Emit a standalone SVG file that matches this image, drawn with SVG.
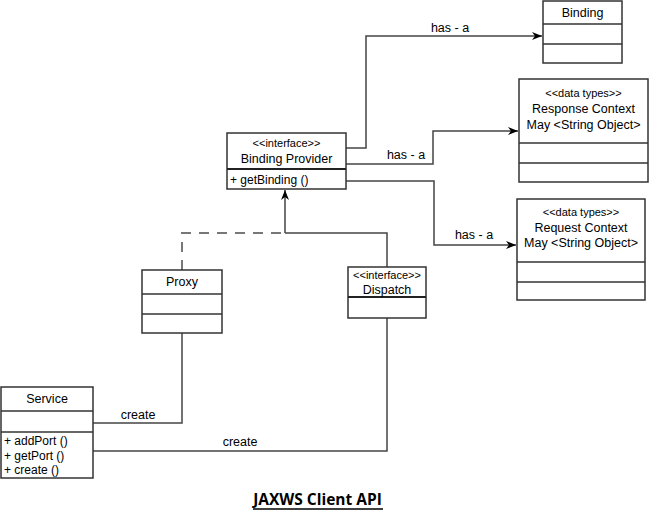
<svg xmlns="http://www.w3.org/2000/svg" width="650" height="512" viewBox="0 0 650 512">
<defs>
<style>
.box{fill:#fff;stroke:#333;stroke-width:1.5}
.div{stroke:#333;stroke-width:1.5}
.thick{stroke:#222;stroke-width:2}
.conn{fill:none;stroke:#444;stroke-width:1.5}
.dash{fill:none;stroke:#777;stroke-width:2;stroke-dasharray:10,8}
.t{font-family:"Liberation Sans",Arial,sans-serif;font-size:12.5px;fill:#000;text-anchor:middle}
.s{font-family:"Liberation Sans",Arial,sans-serif;font-size:11px;fill:#000;text-anchor:middle}
.m{font-family:"Liberation Sans",Arial,sans-serif;font-size:12px;fill:#000}
.title{font-family:"Open Sans","DejaVu Sans",sans-serif;font-size:15.5px;font-weight:bold;fill:#000;text-anchor:middle}
</style>
<marker id="arr" viewBox="0 0 10 10" refX="10" refY="5" markerWidth="10" markerHeight="10" markerUnits="userSpaceOnUse" orient="auto">
<path d="M0,1 L10,5 L0,9 L3,5 z" fill="#000"/>
</marker>
</defs>
<g id="connectors">
<polyline class="conn" points="346,148 366,148 366,36 542,36" marker-end="url(#arr)"/>
<text class="t" x="450" y="32">has - a</text>
<polyline class="conn" points="346,164 433,164 433,131 518,131" marker-end="url(#arr)"/>
<text class="t" x="406" y="159">has - a</text>
<polyline class="conn" points="346,181 434,181 434,245 516,245" marker-end="url(#arr)"/>
<text class="t" x="474" y="239">has - a</text>
<line class="conn" x1="285" y1="233" x2="285" y2="190" marker-end="url(#arr)"/>
<polyline class="dash" points="182,270 182,233 285,233"/>
<polyline class="conn" points="285,233 387,233 387,267"/>
<polyline class="conn" points="182,333 182,423 93,423"/>
<text class="t" x="138" y="419">create</text>
<polyline class="conn" points="387,318 387,451 93,451"/>
<text class="t" x="240" y="446">create</text>
</g>
<g id="binding">
<rect class="box" x="543" y="1" width="79" height="62"/>
<line class="div" x1="543" y1="24" x2="622" y2="24"/>
<line class="div" x1="543" y1="44" x2="622" y2="44"/>
<text class="t" x="582.5" y="17">Binding</text>
</g>
<g id="response-context">
<rect class="box" x="519" y="79" width="129" height="103"/>
<line class="div" x1="519" y1="143" x2="648" y2="143"/>
<line class="div" x1="519" y1="163" x2="648" y2="163"/>
<text class="s" x="583.5" y="97">&lt;&lt;data types&gt;&gt;</text>
<text class="t" x="583.5" y="113">Response Context</text>
<text class="t" x="583.5" y="129">May &lt;String Object&gt;</text>
</g>
<g id="binding-provider">
<rect class="box" x="227" y="133" width="119" height="56"/>
<line class="thick" x1="227" y1="169" x2="346" y2="169"/>
<text class="s" x="286.5" y="147">&lt;&lt;interface&gt;&gt;</text>
<text class="t" x="286.5" y="163">Binding Provider</text>
<text class="m" x="230" y="184">+ getBinding ()</text>
</g>
<g id="request-context">
<rect class="box" x="517" y="199" width="128" height="101"/>
<line class="div" x1="517" y1="262" x2="645" y2="262"/>
<line class="div" x1="517" y1="282" x2="645" y2="282"/>
<text class="s" x="581" y="216">&lt;&lt;data types&gt;&gt;</text>
<text class="t" x="581" y="232">Request Context</text>
<text class="t" x="581" y="247">May &lt;String Object&gt;</text>
</g>
<g id="proxy">
<rect class="box" x="142" y="270" width="80" height="63"/>
<line class="div" x1="142" y1="294" x2="222" y2="294"/>
<line class="div" x1="142" y1="314" x2="222" y2="314"/>
<text class="t" x="182" y="286">Proxy</text>
</g>
<g id="dispatch">
<rect class="box" x="348" y="267" width="78" height="51"/>
<line class="thick" x1="348" y1="297" x2="426" y2="297"/>
<text class="s" x="387" y="279">&lt;&lt;interface&gt;&gt;</text>
<text class="t" x="387" y="294">Dispatch</text>
</g>
<g id="service">
<rect class="box" x="1" y="387" width="92" height="91"/>
<line class="div" x1="1" y1="411" x2="93" y2="411"/>
<line class="div" x1="1" y1="432" x2="93" y2="432"/>
<text class="t" x="47" y="403">Service</text>
<text class="m" x="4" y="445">+ addPort ()</text>
<text class="m" x="4" y="460">+ getPort ()</text>
<text class="m" x="4" y="474">+ create ()</text>
</g>
<g id="title">
<text class="title" x="317.5" y="505">JAXWS Client API</text>
<line x1="253" y1="509" x2="383" y2="509" stroke="#000" stroke-width="1.5"/>
</g>
</svg>
